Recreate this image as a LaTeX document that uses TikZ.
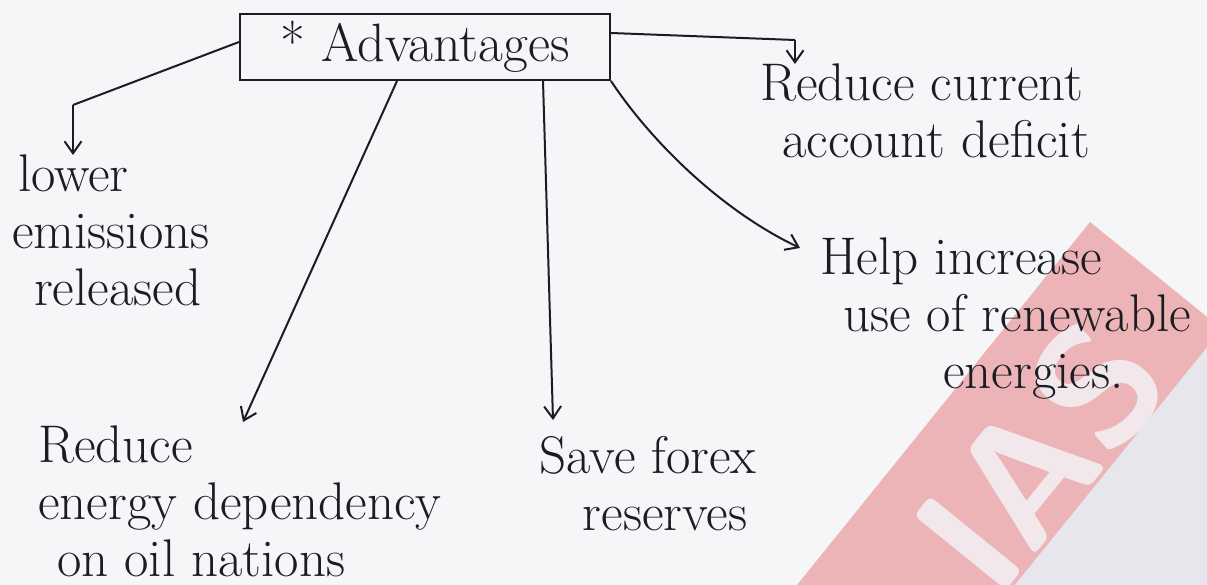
\documentclass[tikz,border=0pt]{standalone}
\usepackage{tikz}
\usetikzlibrary{positioning,arrows.meta}
\pgfdeclarelayer{background}
\pgfsetlayers{background,main}
\definecolor{paper}{RGB}{246,246,248}
\definecolor{ink}{RGB}{28,28,36}
\definecolor{stamp}{RGB}{236,180,182}
\definecolor{stampgray}{RGB}{230,230,236}
\definecolor{stampletter}{RGB}{242,232,236}

\begin{document}
\begin{tikzpicture}[x=1pt,y=-1pt,
							hand/.style={font=\fontsize{53}{57}\selectfont, text=ink, inner sep=0pt, align=left},
							headbox/.style={draw=ink, line width=2pt, minimum width=370pt, minimum height=66pt, inner sep=0pt, font=\fontsize{54}{58}\selectfont, text=ink},
							pen/.style={draw=ink, line width=2pt},
							penarrow/.style={pen, -{Straight Barb[length=12pt,width=17pt,line width=2pt]}},
							]
							\useasboundingbox (0,0) rectangle (1207,585);
							%Nodes
							\node[headbox]                      (adv)   at (425,47)   {* Advantages};
							\node[hand, anchor=north west]      (lower) at (12,155)   {\hspace*{6pt}lower\\emissions\\\hspace*{22pt}released};
							\node[hand, anchor=north west]      (cad)   at (760,64)   {Reduce current\\\hspace*{22pt}account deficit};
							\node[hand, anchor=north west]      (help)  at (820,238)  {Help increase\\\hspace*{23pt}use of renewable\\\hspace*{123pt}energies.};
							\node[hand, anchor=north west]      (dep)   at (38,426)   {Reduce\\energy dependency\\\hspace*{19pt}on oil nations};
							\node[hand, align=center, anchor=north] (forex) at (648,436) {Save forex\\\hspace*{34pt}reserves};
							\coordinate (lbend) at (73,105);
							\coordinate (rbend) at (795,40);
							\coordinate (hend)  at (800,248);
							
							%Lines
							\draw[pen] ([yshift=5pt]adv.west) -- (lbend);
							\draw[penarrow] (lbend) -- (lbend |- lower.north);
							\draw[pen] ([yshift=14pt]adv.east) -- (rbend);
							\draw[penarrow] (rbend) -- (rbend |- cad.north);
							\draw[penarrow] (adv.south east) .. controls (650,140) and (720,210) .. (hend);
							\draw[penarrow] ([xshift=-28pt]adv.south) -- ([xshift=205pt,yshift=4pt]dep.north west);
							\draw[penarrow] ([xshift=118pt]adv.south) -- ([xshift=-95pt,yshift=16pt]forex.north);
							
							\begin{pgfonlayer}{background}
							%Paper and stamp
							\fill[paper] (0,0) rectangle (1207,585);
							\begin{scope}
							\clip (0,0) rectangle (1207,585);
							\fill[stamp] (797,585) -- (1090,222) -- (1222,329) -- (1015,585) -- cycle;
							\fill[stampgray] (1015,585) -- (1222,329) -- (1230,585) -- cycle;
							\node[rotate=51, text=stampletter, font=\sffamily\bfseries\fontsize{170}{170}\selectfont] (mark) at (1040,455) {IAS};
							\end{scope}
							\end{pgfonlayer}
						\end{tikzpicture}
\end{document}
